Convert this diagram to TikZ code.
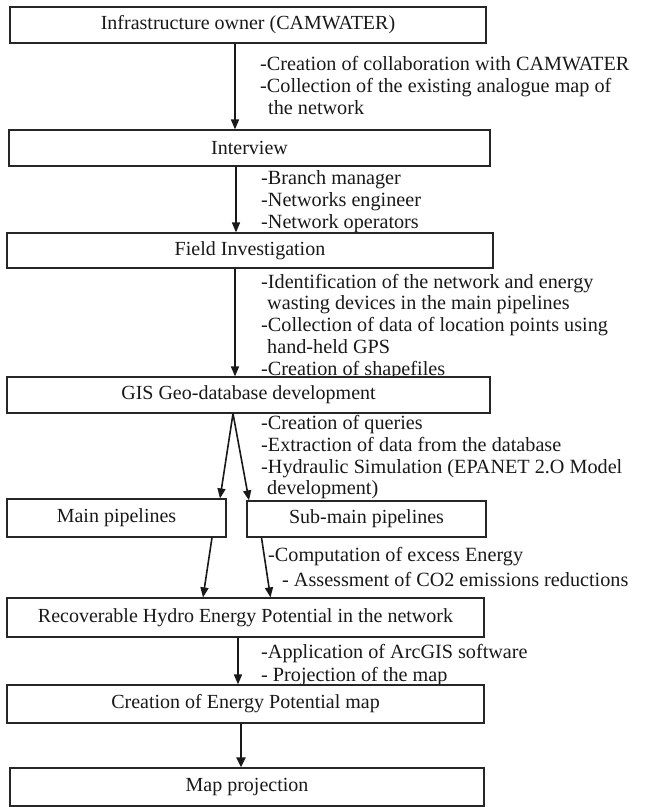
\documentclass[tikz,border=0pt]{standalone}
\usepackage{fontspec}
\setmainfont{Liberation Serif}
\usetikzlibrary{arrows.meta}
\begin{document}
\begin{tikzpicture}[x=1pt,y=-1pt,
  box/.style={draw=black!85,line width=1.2pt,fill=white,inner sep=0pt,
    font=\fontsize{20}{22}\selectfont,text=black!90},
  ann/.style={anchor=base west,inner sep=0pt,font=\fontsize{20.2}{22}\selectfont,text=black!90},
  arr/.style={draw=black!90,line width=1.6pt,-{Triangle[length=10pt,width=8pt]}},
  thickarr/.style={draw=black!90,line width=2.6pt,-{Triangle[length=10pt,width=9pt]}}]
\useasboundingbox (0,0) rectangle (645,807);
% annotations
\node[ann] (t1a) at (260,70.5) {-Creation of collaboration with CAMWATER};
\node[ann] (t1b) at (260,92.5) {-Collection of the existing analogue map of};
\node[ann] (t1c) at (268,114.5) {the network};
\node[ann] (t2a) at (261,184.5) {-Branch manager};
\node[ann] (t2b) at (261,206.5) {-Networks engineer};
\node[ann] (t2c) at (261,228.5) {-Network operators};
\node[ann] (t3a) at (261,288.5) {-Identification of the network and energy};
\node[ann] (t3b) at (267,309.5) {wasting devices in the main pipelines};
\node[ann] (t3c) at (261,331.5) {-Collection of data of location points using};
\node[ann] (t3d) at (267,353.5) {hand-held GPS};
\node[ann] (t3e) at (261,375) {-Creation of shapefiles};
\node[ann] (t4a) at (261,429.5) {-Creation of queries};
\node[ann] (t4b) at (261,451.5) {-Extraction of data from the database};
\node[ann] (t4c) at (261,473.5) {-Hydraulic Simulation (EPANET 2.O Model};
\node[ann] (t4d) at (267,494.5) {development)};
\node[ann] (t5a) at (268,561.5) {-Computation of excess Energy};
\node[ann] (t5b) at (282,586.5) {- Assessment of CO2 emissions reductions};
\node[ann] (t7a) at (261,658.5) {-Application of ArcGIS software};
\node[ann] (t7b) at (261,681.5) {- Projection of the map};
% boxes
\node[box,minimum width=476,minimum height=36] (b1) at (248,25) {Infrastructure owner (CAMWATER)};
\node[box,minimum width=481,minimum height=36] (b2) at (249.5,148) {Interview};
\node[box,minimum width=486,minimum height=35] (b3) at (250,250.5) {Field Investigation};
\node[box,minimum width=483,minimum height=36] (b4) at (248.5,395) {GIS Geo-database development};
\node[box,minimum width=219,minimum height=38] (main) at (116.5,518) {Main pipelines};
\node[box,minimum width=239,minimum height=36] (sub) at (366.5,519) {Sub-main pipelines};
\node[box,minimum width=477,minimum height=39] (b7) at (245.5,617.5) {Recoverable Hydro Energy Potential in the network};
\node[box,minimum width=477,minimum height=38] (b8) at (245.5,704) {Creation of Energy Potential map};
\node[box,minimum width=474,minimum height=38] (b9) at (247,787) {Map projection};
% arrows
\draw[arr] ([xshift=-13pt]b1.south) -- ([xshift=-14.5pt]b2.north);
\draw[arr] ([xshift=-13.5pt]b2.south) -- ([xshift=-14pt]b3.north);
\draw[arr] ([xshift=-15pt]b3.south) -- ([xshift=-13.5pt]b4.north);
\draw[arr] ([xshift=-15.5pt]b4.south) -- ([xshift=103.5pt]main.north);
\draw[arr] ([xshift=-15.5pt]b4.south) -- ([xshift=-117.5pt]sub.north);
\draw[arr] ([xshift=95.5pt]main.south) -- ([xshift=-42.5pt]b7.north);
\draw[arr] ([xshift=-105pt]sub.south) -- ([xshift=25pt]b7.north);
\draw[arr] ([xshift=-7.5pt]b7.south) -- ([xshift=-7.5pt]b8.north);
\draw[thickarr] ([xshift=-4.5pt]b8.south) -- ([xshift=-6pt]b9.north);
\end{tikzpicture}
\end{document}
